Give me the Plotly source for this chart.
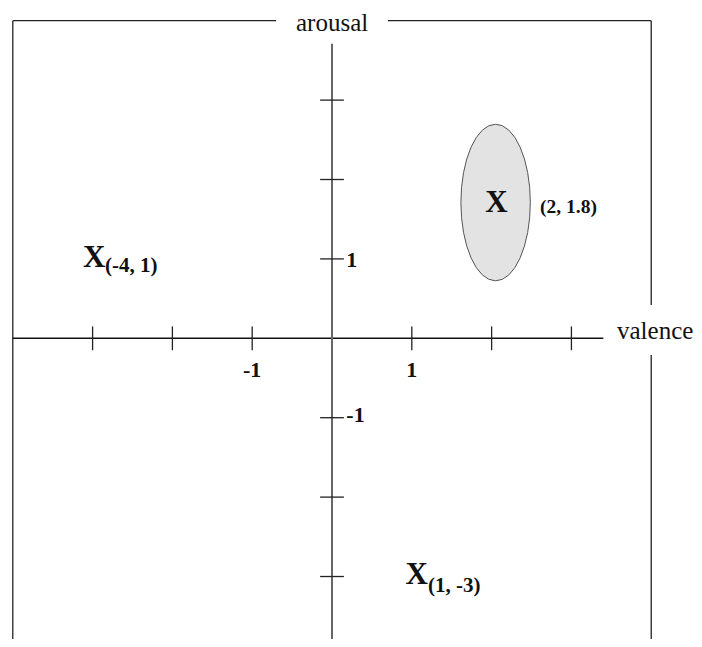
import plotly.graph_objects as go

# ---- data (in axis units) ----
x_ticks = [-3, -2, -1, 1, 2, 3]
y_ticks = [3, 2, 1, -1, -2, -3]
x_tick_labels = {-1: "-1", 1: "1"}
y_tick_labels = {1: "1", -1: "-1"}

point_names = ["(-4, 1)", "(2, 1.8)", "(1, -3)"]
point_x = [-2.98, 2.06, 1.06]
point_y = [0.99, 1.69, -3.0]
label_x = [-2.845, 2.607, 1.203]
label_y = [0.90, 1.64, -3.13]

ellipse_center = (2.05, 1.71)
ellipse_radii = (0.435, 0.986)

frame_half = 4.0
# page body has an 8px margin, so the figure starts at (8, 8)
x_range = [-4.060, 4.536]
y_range = [-3.787, 4.160]

FONT = "Liberation Serif, Times New Roman, serif"

fig = go.Figure()

# frame (left, top with gap, right with gap)
frame_segments = [
    ([-frame_half, -frame_half], [y_range[0], frame_half]),
    ([-frame_half, -0.70], [frame_half, frame_half]),
    ([0.70, frame_half], [frame_half, frame_half]),
    ([frame_half, frame_half], [frame_half, 0.42]),
    ([frame_half, frame_half], [-0.21, y_range[0]]),
]
for xs, ys in frame_segments:
    fig.add_trace(go.Scatter(x=xs, y=ys, mode="lines",
                             line=dict(color="#222", width=1.3),
                             hoverinfo="skip", showlegend=False))

# ellipse
cx, cy = ellipse_center
rx, ry = ellipse_radii
fig.add_shape(type="circle", xref="x", yref="y",
              x0=cx - rx, x1=cx + rx, y0=cy - ry, y1=cy + ry,
              fillcolor="#e3e3e3", line=dict(color="#555", width=1), layer="below")

# horizontal axis
fig.add_trace(go.Scatter(x=[-frame_half, 3.40], y=[0, 0], mode="lines",
                         line=dict(color="#111", width=1.5),
                         hoverinfo="skip", showlegend=False))
# vertical axis
fig.add_trace(go.Scatter(x=[0, 0], y=[y_range[0], 3.71], mode="lines",
                         line=dict(color="#666", width=2),
                         hoverinfo="skip", showlegend=False))

# ticks
fig.add_trace(go.Scatter(x=x_ticks, y=[0] * len(x_ticks), mode="markers",
                         marker=dict(symbol="line-ns", size=17,
                                     line=dict(color="#222", width=1.3)),
                         hoverinfo="skip", showlegend=False))
fig.add_trace(go.Scatter(x=[0] * len(y_ticks), y=y_ticks, mode="markers",
                         marker=dict(symbol="line-ew", size=17,
                                     line=dict(color="#222", width=1.3)),
                         hoverinfo="skip", showlegend=False))

# tick labels
fig.add_trace(go.Scatter(x=list(x_tick_labels.keys()), y=[-0.42] * len(x_tick_labels),
                         mode="text", text=[f"<b>{t}</b>" for t in x_tick_labels.values()],
                         textfont=dict(family=FONT, size=22, color="#111"),
                         textposition="middle center", hoverinfo="skip", showlegend=False))
fig.add_trace(go.Scatter(x=[0.18] * len(y_tick_labels), y=[0.97, -0.99],
                         mode="text", text=[f"<b>{t}</b>" for t in y_tick_labels.values()],
                         textfont=dict(family=FONT, size=22, color="#111"),
                         textposition="middle right", hoverinfo="skip", showlegend=False))

# points (X marks) and their labels
fig.add_trace(go.Scatter(x=point_x, y=point_y, mode="text",
                         text=["<b>X</b>"] * len(point_x),
                         textfont=dict(family=FONT, size=31, color="#111"),
                         textposition="middle center", hoverinfo="skip", showlegend=False))
fig.add_trace(go.Scatter(x=label_x, y=label_y, mode="text",
                         text=[f"<b>{t}</b>" for t in point_names],
                         textfont=dict(family=FONT, size=[21, 19.5, 21], color="#111"),
                         textposition="middle right", hoverinfo="skip", showlegend=False))

# axis titles
fig.add_annotation(x=0, y=1, xref="x", yref="paper", text="arousal",
                   showarrow=False, font=dict(family=FONT, size=25, color="#111"),
                   xanchor="center", yanchor="top", borderpad=0)
fig.add_annotation(x=3.55, y=0.10, xref="x", yref="y", text="valence",
                   showarrow=False, font=dict(family=FONT, size=25, color="#111"),
                   xanchor="left", yanchor="middle")

fig.update_layout(
    width=686, height=631,
    margin=dict(l=0, r=0, t=0, b=0),
    paper_bgcolor="white", plot_bgcolor="white",
    xaxis=dict(range=x_range, visible=False, fixedrange=True),
    yaxis=dict(range=y_range, visible=False, fixedrange=True),
    showlegend=False,
)

fig.write_html("out.html")
